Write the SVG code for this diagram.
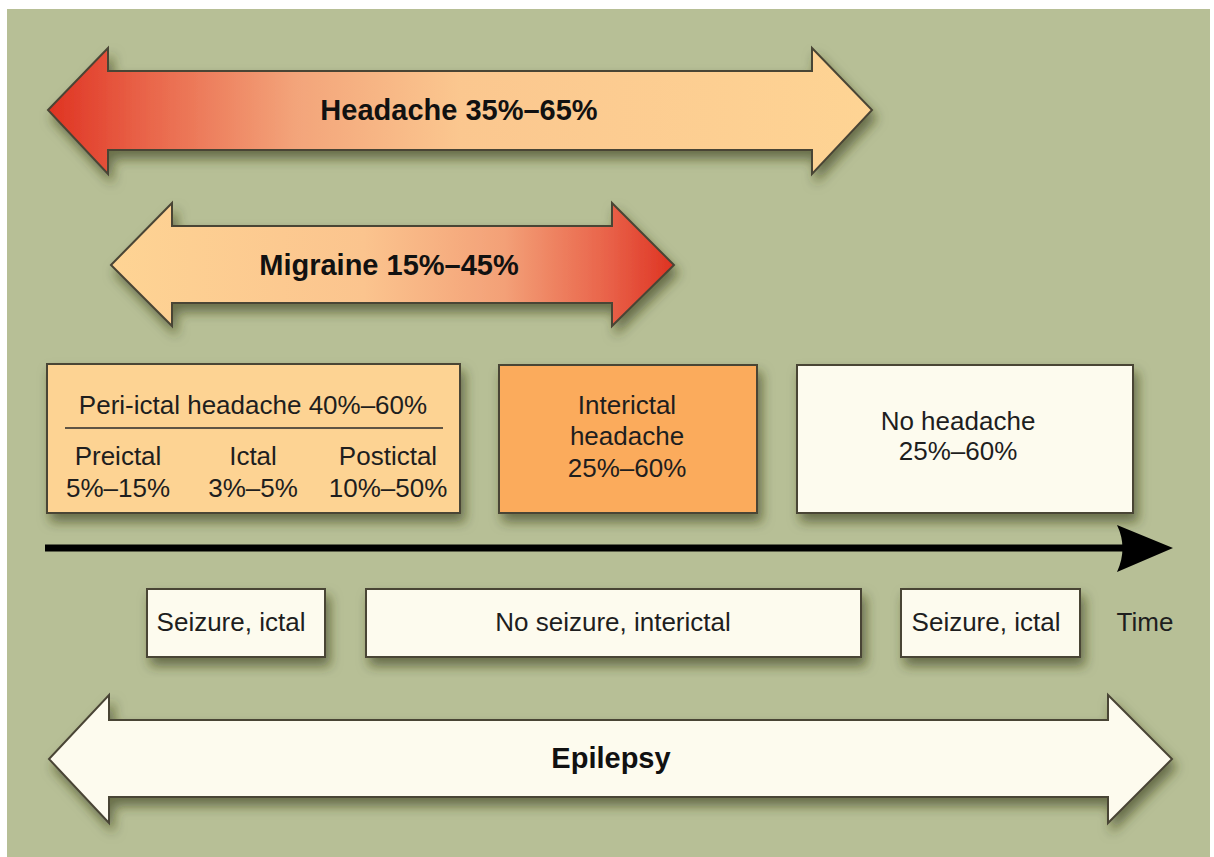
<svg xmlns="http://www.w3.org/2000/svg" width="1214" height="857" viewBox="0 0 1214 857">
<defs>
<linearGradient id="gHead" x1="48" y1="0" x2="872" y2="0" gradientUnits="userSpaceOnUse">
<stop offset="0" stop-color="#df3322"/>
<stop offset="0.12" stop-color="#e9654a"/>
<stop offset="0.3" stop-color="#f3a47a"/>
<stop offset="0.5" stop-color="#fbc78f"/>
<stop offset="1" stop-color="#fed494"/>
</linearGradient>
<linearGradient id="gMig" x1="110" y1="0" x2="674" y2="0" gradientUnits="userSpaceOnUse">
<stop offset="0" stop-color="#fed494"/>
<stop offset="0.45" stop-color="#fbc48e"/>
<stop offset="0.7" stop-color="#f3a077"/>
<stop offset="0.88" stop-color="#e9634a"/>
<stop offset="1" stop-color="#de3322"/>
</linearGradient>
<filter id="sh" x="-10%" y="-20%" width="125%" height="150%">
<feDropShadow dx="4" dy="8" stdDeviation="6" flood-color="#343818" flood-opacity="0.6"/>
</filter>
<style>
.bx{stroke:#4a4535;stroke-width:2;filter:url(#sh)}
.t{font-family:"Liberation Sans",Arial,sans-serif;font-size:26px;fill:#1e1e1e;text-anchor:middle}
.b{font-family:"Liberation Sans",Arial,sans-serif;font-size:29px;font-weight:bold;fill:#111;text-anchor:middle}
</style>
</defs>
<rect x="0" y="0" width="1214" height="857" fill="#ffffff"/>
<rect x="7" y="9" width="1203" height="848" fill="#b7bf96"/>

<g id="headache">
<path class="bx" d="M48,110 L108,48 L108,71 L812,71 L812,48 L872,110 L812,174 L812,150 L108,150 L108,174 Z" fill="url(#gHead)"/>
<text class="b" x="459" y="120">Headache 35%–65%</text>
</g>

<g id="migraine">
<path class="bx" d="M111,265 L172,203 L172,226 L612,226 L612,203 L674,265 L612,326 L612,303 L172,303 L172,326 Z" fill="url(#gMig)"/>
<text class="b" x="389" y="275">Migraine 15%–45%</text>
</g>

<g id="periictal">
<rect class="bx" x="47" y="364" width="413" height="149" fill="#fdd393"/>
<text class="t" x="253" y="414">Peri-ictal headache 40%–60%</text>
<line x1="65" y1="428" x2="443" y2="428" stroke="#2a2a2a" stroke-width="1.5"/>
<text class="t" x="118" y="465">Preictal</text>
<text class="t" x="118" y="497">5%–15%</text>
<text class="t" x="253" y="465">Ictal</text>
<text class="t" x="253" y="497">3%–5%</text>
<text class="t" x="388" y="465">Postictal</text>
<text class="t" x="388" y="497">10%–50%</text>
</g>

<g id="interictal">
<rect class="bx" x="499" y="365" width="258" height="148" fill="#fbab5c"/>
<text class="t" x="627" y="414">Interictal</text>
<text class="t" x="627" y="445">headache</text>
<text class="t" x="627" y="477">25%–60%</text>
</g>

<g id="noheadache">
<rect class="bx" x="797" y="365" width="336" height="148" fill="#fdfbee"/>
<text class="t" x="958" y="430">No headache</text>
<text class="t" x="958" y="460">25%–60%</text>
</g>

<g id="connectors">
<line x1="45" y1="548" x2="1125" y2="548" stroke="#000" stroke-width="7"/>
<path d="M1117,525 L1173,548 L1117,572 Q1128,548 1117,525 Z" fill="#000"/>
</g>

<g id="seizure1">
<rect class="bx" x="147" y="589" width="178" height="68" fill="#fdfbee"/>
<text class="t" x="231" y="631">Seizure, ictal</text>
</g>
<g id="noseizure">
<rect class="bx" x="366" y="589" width="495" height="68" fill="#fdfbee"/>
<text class="t" x="613" y="631">No seizure, interictal</text>
</g>
<g id="seizure2">
<rect class="bx" x="901" y="589" width="179" height="68" fill="#fdfbee"/>
<text class="t" x="986" y="631">Seizure, ictal</text>
</g>
<g id="time">
<text class="t" x="1145" y="631">Time</text>
</g>

<g id="epilepsy">
<path class="bx" d="M49,759 L109,695 L109,720 L1108,720 L1108,695 L1172,759 L1108,823 L1108,797 L109,797 L109,823 Z" fill="#fdfbee"/>
<text class="b" x="611" y="768">Epilepsy</text>
</g>
</svg>
